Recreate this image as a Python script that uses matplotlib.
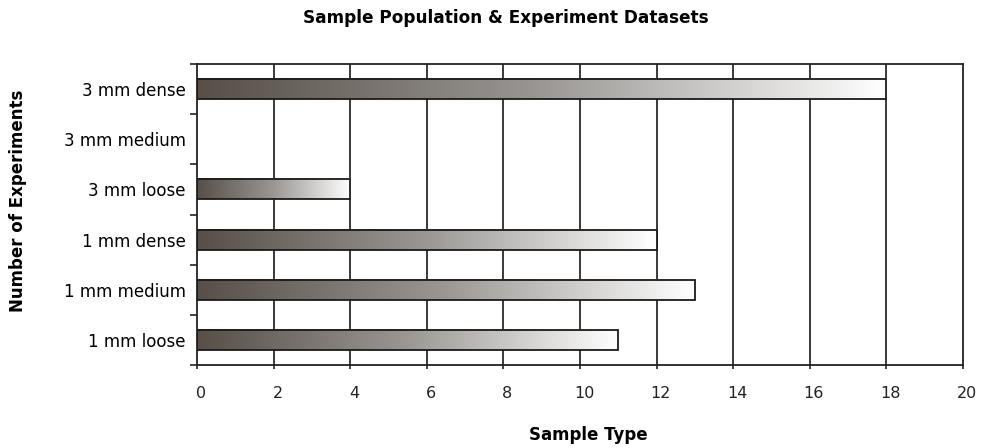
import numpy as np
import matplotlib
matplotlib.use("Agg")
import matplotlib.pyplot as plt
import matplotlib.transforms as mtransforms
from matplotlib.colors import LinearSegmentedColormap
from matplotlib.patches import Rectangle

# data
categorias = ["1 mm loose", "1 mm medium", "1 mm dense", "3 mm loose", "3 mm medium", "3 mm dense"]
valores = [11, 13, 12, 4, 0, 18]
x_ticks = [0, 2, 4, 6, 8, 10, 12, 14, 16, 18, 20]

plt.rcParams['font.family'] = ['DejaVu Sans']

fig = plt.figure(figsize=(9.84, 4.48), dpi=100)
ax = fig.add_axes([197 / 984, 1 - 365 / 448, 766 / 984, 301 / 448])

degradado = LinearSegmentedColormap.from_list("gris", ["#574f48", "#9a9794", "#ffffff"])
grad = np.linspace(0, 1, 256).reshape(1, -1)
alto = 0.4

# barras con degradado
for i, v in enumerate(valores):
    if v <= 0:
        continue
    ax.imshow(grad, cmap=degradado, aspect='auto', interpolation='bilinear',
              extent=(0, v, i - alto / 2, i + alto / 2), zorder=3)
    ax.add_patch(Rectangle((0, i - alto / 2), v, alto, fill=False,
                           edgecolor='#1a1a1a', linewidth=1.3, zorder=4))

ax.set_xlim(0, 20)
ax.set_ylim(-0.5, len(categorias) - 0.5)

# lineas verticales
for x in x_ticks[1:-1]:
    ax.axvline(x, color='#2a2a2a', linewidth=1.3, zorder=1)

ax.set_xticks(x_ticks)
ax.set_xticklabels([str(x) for x in x_ticks], fontsize=11.5)
ax.tick_params(axis='x', direction='out', length=3, width=1.2, pad=12, colors='#222222')
desplazar = mtransforms.ScaledTranslation(4 / 100, 0, fig.dpi_scale_trans)
for lab in ax.get_xticklabels():
    lab.set_transform(lab.get_transform() + desplazar)

ax.set_yticks(np.arange(len(categorias) + 1) - 0.5)
ax.set_yticklabels([])
ax.set_yticks(np.arange(len(categorias)), minor=True)
ax.set_yticklabels(categorias, minor=True, fontsize=12)
ax.tick_params(axis='y', which='major', direction='out', length=5, width=1.2, colors='#222222')
ax.tick_params(axis='y', which='minor', length=0, pad=8)

for s in ax.spines.values():
    s.set_color('#222222')
    s.set_linewidth(1.3)

fig.text(506 / 984, 1 - 18 / 448, "Sample Population & Experiment Datasets",
         ha='center', va='center', fontsize=12.2, fontweight='bold')
fig.text(588 / 984, 1 - 435 / 448, "Sample Type", ha='center', va='center',
         fontsize=12, fontweight='bold')
fig.text(18 / 984, 1 - 201 / 448, "Number of Experiments", ha='center', va='center',
         rotation=90, fontsize=12, fontweight='bold')

fig.savefig("out.png", dpi=100)
